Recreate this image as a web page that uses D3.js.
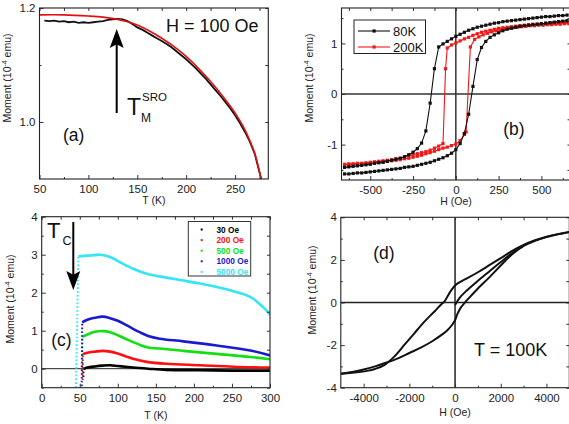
<!DOCTYPE html>
<html>
<head>
<meta charset="utf-8">
<script src="https://cdn.jsdelivr.net/npm/d3@7"></script>
<style>
  body { margin: 0; background: #fff; }
  svg { display: block; font-family: "Liberation Sans", Arial, sans-serif; }
</style>
</head>
<body>
<script>
// ---- panel (a): M(T) at 100 Oe ----
const aData = [[55,1.178],[60,1.177],[65,1.178],[70,1.176],[75,1.177],[80,1.175],[85,1.176],[90,1.174],[95,1.175],[100,1.174],
  [105,1.175],[110,1.176],[115,1.177],[120,1.179],[125,1.180],[130,1.181],[135,1.180],[140,1.177],[145,1.172],[150,1.166],
  [155,1.162],[160,1.157],[165,1.152],[170,1.147],[175,1.142],[180,1.137],[185,1.131],[190,1.124],[195,1.117],[200,1.110],
  [205,1.102],[210,1.094],[215,1.085],[220,1.076],[225,1.066],[230,1.056],[235,1.046],[240,1.035],[245,1.024],[250,1.012],
  [255,0.998],[260,0.983],[265,0.966],[270,0.945],[275,0.912],[277,0.898]];
const aFit = [[50,1.188],[75,1.188],[100,1.186],[115,1.184],[130,1.180],[140,1.176],[150,1.170],[162,1.160],[175,1.147],
  [187,1.133],[200,1.115],[212,1.095],[225,1.071],[237,1.046],[250,1.016],[258,0.993],[265,0.968],[271,0.940],[276,0.905],[278,0.89]];

// ---- panel (b): hysteresis loops ----
const loop80Down = [[650,1.56],[625,1.55],[600,1.55],[575,1.54],[550,1.53],[525,1.53],[500,1.52],[475,1.51],[450,1.50],[425,1.49],
  [400,1.48],[375,1.47],[350,1.46],[325,1.45],[300,1.44],[275,1.43],[250,1.41],[225,1.40],[200,1.38],[175,1.36],[150,1.34],
  [125,1.32],[100,1.29],[75,1.26],[50,1.22],[25,1.18],[0,1.14],[-25,1.09],[-50,1.04],[-75,0.99],[-100,0.93],[-125,0.50],
  [-150,-0.18],[-175,-0.73],[-200,-0.97],[-225,-1.08],[-250,-1.15],[-275,-1.20],[-300,-1.24],[-325,-1.27],[-350,-1.29],
  [-375,-1.31],[-400,-1.33],[-425,-1.35],[-450,-1.36],[-475,-1.37],[-500,-1.39],[-525,-1.40],[-550,-1.41],[-575,-1.42],
  [-600,-1.43],[-625,-1.44],[-650,-1.45]];
const loop80Up = [[-650,-1.58],[-625,-1.58],[-600,-1.57],[-575,-1.56],[-550,-1.56],[-525,-1.55],[-500,-1.54],[-475,-1.53],
  [-450,-1.52],[-425,-1.51],[-400,-1.50],[-375,-1.49],[-350,-1.48],[-325,-1.47],[-300,-1.45],[-275,-1.44],[-250,-1.43],
  [-225,-1.41],[-200,-1.39],[-175,-1.37],[-150,-1.35],[-125,-1.32],[-100,-1.29],[-75,-1.26],[-50,-1.22],[-25,-1.17],[0,-1.10],
  [25,-0.98],[50,-0.78],[75,-0.40],[100,0.15],[125,0.68],[150,0.92],[175,1.04],[200,1.12],[225,1.17],[250,1.21],[275,1.25],
  [300,1.28],[325,1.30],[350,1.32],[375,1.34],[400,1.35],[425,1.36],[450,1.37],[475,1.38],[500,1.39],[525,1.40],[550,1.41],
  [575,1.42],[600,1.43],[625,1.44],[650,1.45]];
const loop200Down = [[650,1.42],[625,1.42],[600,1.41],[575,1.41],[550,1.40],[525,1.40],[500,1.39],[475,1.38],[450,1.38],
  [425,1.37],[400,1.36],[375,1.35],[350,1.34],[325,1.33],[300,1.32],[275,1.31],[250,1.30],[225,1.28],[200,1.26],[175,1.24],
  [150,1.22],[125,1.19],[100,1.16],[75,1.12],[50,1.09],[25,1.05],[0,1.01],[-25,0.97],[-50,0.91],[-60,0.50],[-75,-0.98],
  [-100,-1.03],[-125,-1.07],[-150,-1.11],[-175,-1.14],[-200,-1.16],[-225,-1.18],[-250,-1.20],[-275,-1.22],[-300,-1.25],
  [-325,-1.27],[-350,-1.28],[-375,-1.30],[-400,-1.31],[-425,-1.32],[-450,-1.33],[-475,-1.34],[-500,-1.35],[-525,-1.36],
  [-550,-1.37],[-575,-1.37],[-600,-1.38],[-625,-1.38],[-650,-1.39]];
const loop200Up = [[-650,-1.40],[-625,-1.40],[-600,-1.39],[-575,-1.39],[-550,-1.38],[-525,-1.38],[-500,-1.37],[-475,-1.36],
  [-450,-1.35],[-425,-1.34],[-400,-1.33],[-375,-1.32],[-350,-1.31],[-325,-1.30],[-300,-1.28],[-275,-1.27],[-250,-1.25],
  [-225,-1.23],[-200,-1.21],[-175,-1.18],[-150,-1.16],[-125,-1.13],[-100,-1.10],[-75,-1.07],[-50,-1.05],[-25,-1.02],[0,-0.99],
  [25,-0.92],[50,-0.80],[60,-0.75],[85,0.93],[110,1.08],[135,1.13],[160,1.17],[185,1.20],[210,1.23],[235,1.25],[260,1.27],
  [285,1.29],[310,1.30],[335,1.31],[360,1.32],[385,1.33],[410,1.34],[435,1.35],[460,1.35],[485,1.36],[510,1.36],[535,1.37],
  [560,1.37],[585,1.38],[610,1.38],[635,1.39],[660,1.39]];

// ---- panel (c): M(T) at several fields ----
const fieldLabels = ["30 Oe", "200 Oe", "500 Oe", "1000 Oe", "5000 Oe"];
const fieldColors = ["#000000", "#ff1010", "#10e010", "#1a1ad0", "#33e6f6"];
const riseCurves = [
  [[54.8,-0.22],[54.8,0.0]],
  [[54.0,-0.30],[54.0,0.38]],
  [[53.4,-0.15],[53.4,0.84]],
  [[52.6,-0.46],[53.2,1.22]],
  [[45.0,-0.50],[48.2,2.95]]
];
const mtCurves = [
  [[55,-0.01],[60,0.03],[70,0.06],[80,0.08],[90,0.09],[100,0.07],[110,0.05],[120,0.03],[140,0.0],[164,-0.03],[208,-0.04],[250,-0.05],[300,-0.05]],
  [[54,0.38],[60,0.42],[70,0.45],[80,0.47],[90,0.45],[100,0.40],[110,0.33],[120,0.26],[138,0.18],[164,0.13],[208,0.09],[252,0.05],[300,0.03]],
  [[53.4,0.84],[60,0.90],[70,0.97],[80,0.99],[90,0.96],[100,0.88],[110,0.79],[120,0.70],[130,0.62],[140,0.56],[155,0.53],[186,0.47],[230,0.39],[274,0.31],[300,0.25]],
  [[53.2,1.22],[60,1.29],[70,1.34],[80,1.37],[90,1.33],[100,1.26],[110,1.16],[120,1.05],[130,0.95],[140,0.86],[155,0.79],[186,0.72],[230,0.61],[274,0.48],[300,0.35]],
  [[48.2,2.95],[55,2.97],[65,2.98],[77,3.00],[90,2.94],[103,2.80],[120,2.63],[138,2.50],[155,2.43],[186,2.32],[208,2.24],[230,2.15],[252,2.04],[274,1.89],[291,1.62],[300,1.42]]
];

// ---- panel (d): loop at 100 K ----
const dUpper = [[5000,3.31],[4500,3.21],[4000,3.09],[3500,2.92],[3000,2.70],[2500,2.42],[2000,2.08],[1500,1.75],[1000,1.42],
  [500,1.12],[250,0.98],[0,0.80],[-200,0.52],[-350,0.25],[-480,0.03],[-600,-0.08],[-900,-0.42],[-1350,-0.91],[-1800,-1.47],
  [-2200,-1.97],[-2650,-2.53],[-3100,-2.94],[-3500,-3.12],[-3850,-3.21],[-4500,-3.30],[-5000,-3.34]];
const dLower = [[-5000,-3.34],[-4500,-3.26],[-4000,-3.15],[-3500,-3.00],[-3000,-2.82],[-2500,-2.62],[-2000,-2.37],
  [-1500,-2.12],[-1000,-1.82],[-500,-1.45],[-335,-1.30],[-150,-1.08],[0,-0.83],[100,-0.55],[250,-0.24],[400,-0.04],[600,0.20],
  [1000,0.66],[1500,1.18],[2000,1.74],[2500,2.27],[3000,2.66],[3500,2.90],[4000,3.07],[4500,3.20],[5000,3.30]];
const dVirgin = [[0,-0.12],[200,0.22],[500,0.55],[1000,1.02],[1500,1.46],[2000,1.90],[2500,2.32],[3000,2.66]];

const FONT = '"Liberation Sans", Arial, sans-serif';
const svg = d3.select("body").append("svg").attr("width", 569).attr("height", 424);
svg.append("rect").attr("width", 569).attr("height", 424).attr("fill", "#fff");

let clipCount = 0;
function drawPanel(cfg) {
  const x = d3.scaleLinear().domain(cfg.xDomain).range([cfg.left, cfg.right]);
  const y = d3.scaleLinear().domain(cfg.yDomain).range([cfg.bottom, cfg.top]);
  const g = svg.append("g");
  const id = "clip" + (clipCount++);
  svg.append("clipPath").attr("id", id).append("rect")
    .attr("x", cfg.left).attr("y", cfg.top)
    .attr("width", cfg.right - cfg.left).attr("height", cfg.bottom - cfg.top);
  const plot = g.append("g").attr("clip-path", `url(#${id})`);

  const style = sel => {
    sel.select(".domain").remove();
    sel.selectAll("line").attr("stroke", "#333").attr("stroke-width", 1);
    sel.selectAll("text").attr("font-family", FONT).attr("font-size", 11.5).attr("fill", "#222");
  };
  // major + minor ticks on all four sides, pointing inwards
  g.append("g").attr("transform", `translate(0,${cfg.bottom})`)
    .call(d3.axisBottom(x).tickValues(cfg.xTicks).tickSize(-4).tickSizeOuter(0).tickPadding(6).tickFormat(d => String(d)))
    .call(style);
  g.append("g").attr("transform", `translate(0,${cfg.bottom})`)
    .call(d3.axisBottom(x).tickValues(cfg.xMinor).tickSize(-2).tickSizeOuter(0).tickFormat("")).call(style);
  g.append("g").attr("transform", `translate(0,${cfg.top})`)
    .call(d3.axisTop(x).tickValues(cfg.xTicks.concat(cfg.xMinor)).tickSize(-3).tickSizeOuter(0).tickFormat("")).call(style);
  g.append("g").attr("transform", `translate(${cfg.left},0)`)
    .call(d3.axisLeft(y).tickValues(cfg.yTicks).tickSize(-4).tickSizeOuter(0).tickPadding(4).tickFormat(cfg.yFormat || (d => String(d))))
    .call(style);
  g.append("g").attr("transform", `translate(${cfg.left},0)`)
    .call(d3.axisLeft(y).tickValues(cfg.yMinor).tickSize(-2).tickSizeOuter(0).tickFormat("")).call(style);
  g.append("g").attr("transform", `translate(${cfg.right},0)`)
    .call(d3.axisRight(y).tickValues(cfg.yTicks.concat(cfg.yMinor)).tickSize(-3).tickSizeOuter(0).tickFormat("")).call(style);

  g.append("rect")
    .attr("x", cfg.left).attr("y", cfg.top)
    .attr("width", cfg.right - cfg.left).attr("height", cfg.bottom - cfg.top)
    .attr("fill", "none").attr("stroke", "#222").attr("stroke-width", 1.1);

  // axis titles
  g.append("text").attr("x", (cfg.left + cfg.right) / 2).attr("y", cfg.xTitleY)
    .attr("text-anchor", "middle").attr("font-family", FONT).attr("font-size", 10.5).attr("fill", "#222")
    .text(cfg.xTitle);
  const yt = g.append("text").attr("transform", `translate(${cfg.yTitleX},${cfg.yTitleMid}) rotate(-90)`)
    .attr("text-anchor", "middle").attr("font-family", FONT).attr("font-size", 10.5).attr("fill", "#222");
  yt.append("tspan").text("Moment (10");
  yt.append("tspan").attr("dy", -4).attr("font-size", 7).text("-4");
  yt.append("tspan").attr("dy", 4).text(" emu)");

  return { x, y, g, plot };
}

function label(g, x, y, txt, size, anchor) {
  return g.append("text").attr("x", x).attr("y", y).attr("font-family", FONT)
    .attr("font-size", size).attr("fill", "#111").attr("text-anchor", anchor || "start").text(txt);
}

function arrow(g, x, yTail, yTip, dir) {
  // dir = -1 arrow points up, +1 points down
  const head = 19, half = 7;
  g.append("line").attr("x1", x).attr("x2", x).attr("y1", yTail).attr("y2", yTip - dir * head * 0.6)
    .attr("stroke", "#000").attr("stroke-width", 2);
  g.append("path")
    .attr("d", `M${x},${yTip} L${x - half},${yTip - dir * head} L${x},${yTip - dir * head * 0.8} L${x + half},${yTip - dir * head} Z`)
    .attr("fill", "#000");
}

// ================= (a) =================
const A = drawPanel({
  left: 39.5, right: 268.3, top: 8, bottom: 179,
  xDomain: [50, 284], yDomain: [0.9, 1.2],
  xTicks: [50, 100, 150, 200, 250], xMinor: [75, 125, 175, 225, 275],
  yTicks: [1.0, 1.2], yMinor: [1.1], yFormat: d3.format(".1f"),
  xTitle: "T (K)", xTitleY: 204, yTitleX: 11, yTitleMid: 78
});
const lineA = d3.line().x(d => A.x(d[0])).y(d => A.y(d[1]));
A.plot.append("path").datum(aData).attr("d", lineA)
  .attr("fill", "none").attr("stroke", "#111").attr("stroke-width", 1.8);
A.plot.append("path").datum(aFit).attr("d", lineA.curve(d3.curveCatmullRom))
  .attr("fill", "none").attr("stroke", "#e41010").attr("stroke-width", 1.6);
arrow(A.g, 116.7, 113, 29, -1);
label(A.g, 127, 115, "T", 23);
label(A.g, 141, 122, "M", 12);
label(A.g, 142, 101, "SRO", 11.5);
label(A.g, 166, 32, "H = 100 Oe", 18);
label(A.g, 63, 141, "(a)", 17.5);

// ================= (b) =================
const B = drawPanel({
  left: 341.5, right: 570.5, top: 8, bottom: 180,
  xDomain: [-668, 670], yDomain: [-1.7, 1.7],
  xTicks: [-500, -250, 0, 250, 500], xMinor: [-625, -375, -125, 125, 375, 625],
  yTicks: [-1, 0, 1], yMinor: [-1.5, -0.5, 0.5, 1.5],
  xTitle: "H (Oe)", xTitleY: 205, yTitleX: 313, yTitleMid: 78
});
B.plot.append("line").attr("x1", B.x(0)).attr("x2", B.x(0)).attr("y1", 8).attr("y2", 180)
  .attr("stroke", "#333").attr("stroke-width", 1.5);
B.plot.append("line").attr("x1", 341.5).attr("x2", 570.5).attr("y1", B.y(0)).attr("y2", B.y(0))
  .attr("stroke", "#333").attr("stroke-width", 1.5);
const lineB = d3.line().x(d => B.x(d[0])).y(d => B.y(d[1]));
const loops = [
  { data: loop200Down, color: "#f01818" }, { data: loop200Up, color: "#f01818" },
  { data: loop80Down, color: "#111" }, { data: loop80Up, color: "#111" }
];
loops.forEach(l => {
  B.plot.append("path").datum(l.data).attr("d", lineB)
    .attr("fill", "none").attr("stroke", l.color).attr("stroke-width", 1.1);
  B.plot.selectAll(null).data(l.data).enter().append("rect")
    .attr("x", d => B.x(d[0]) - 1.6).attr("y", d => B.y(d[1]) - 1.6)
    .attr("width", 3.2).attr("height", 3.2).attr("fill", l.color);
});
label(B.g, 514, 135, "(b)", 17.5, "middle");
// legend
const legB = B.g.append("g");
legB.append("rect").attr("x", 354).attr("y", 20).attr("width", 71.5).attr("height", 33.5)
  .attr("fill", "#fff").attr("stroke", "#222").attr("stroke-width", 1);
[["80K", "#111", 31], ["200K", "#f01818", 47]].forEach(([t, c, yy]) => {
  legB.append("line").attr("x1", 358).attr("x2", 390).attr("y1", yy).attr("y2", yy)
    .attr("stroke", c).attr("stroke-width", 1.1);
  legB.append("rect").attr("x", 372.5).attr("y", yy - 1.6).attr("width", 3.2).attr("height", 3.2).attr("fill", c);
  label(legB, 393, yy + 4.5, t, 13);
});

// ================= (c) =================
const C = drawPanel({
  left: 41.7, right: 270, top: 216.7, bottom: 387.7,
  xDomain: [0, 300], yDomain: [-0.5, 4],
  xTicks: [0, 50, 100, 150, 200, 250, 300], xMinor: [25, 75, 125, 175, 225, 275],
  yTicks: [0, 1, 2, 3, 4], yMinor: [-0.5, 0.5, 1.5, 2.5, 3.5],
  xTitle: "T (K)", xTitleY: 419, yTitleX: 14, yTitleMid: 299
});
C.plot.append("line").attr("x1", 41.7).attr("x2", 270).attr("y1", C.y(0)).attr("y2", C.y(0))
  .attr("stroke", "#222").attr("stroke-width", 1);
const lineC = d3.line().x(d => C.x(d[0])).y(d => C.y(d[1]));
mtCurves.forEach((curve, i) => {
  C.plot.append("path").datum(riseCurves[i]).attr("d", lineC)
    .attr("fill", "none").attr("stroke", fieldColors[i]).attr("stroke-width", 2)
    .attr("stroke-dasharray", "1.6,2.2");
  C.plot.append("path").datum(curve).attr("d", lineC.curve(d3.curveCatmullRom))
    .attr("fill", "none").attr("stroke", fieldColors[i]).attr("stroke-width", 2.6);
  lineC.curve(d3.curveLinear);
});
arrow(C.g, 73.3, 222, 290, 1);
label(C.g, 47, 238, "T", 22);
label(C.g, 62.5, 245, "C", 12.5);
label(C.g, 61.5, 346, "(c)", 17.5, "middle");
// legend
const legC = C.g.append("g");
legC.append("rect").attr("x", 188.3).attr("y", 221.5).attr("width", 62.4).attr("height", 54.5)
  .attr("fill", "#fff").attr("stroke", "#333").attr("stroke-width", 1);
fieldLabels.forEach((t, i) => {
  const yy = 229.5 + i * 10.6;
  legC.append("rect").attr("x", 200.7).attr("y", yy - 1).attr("width", 2).attr("height", 2).attr("fill", fieldColors[i]);
  legC.append("text").attr("x", 216.5).attr("y", yy + 3).attr("font-family", FONT).attr("font-size", 8.3)
    .attr("font-weight", "bold").attr("fill", fieldColors[i]).text(t);
});

// ================= (d) =================
const D = drawPanel({
  left: 340.8, right: 569.3, top: 217.3, bottom: 387.7,
  xDomain: [-5000, 5000], yDomain: [-4, 4],
  xTicks: [-4000, -2000, 0, 2000, 4000], xMinor: [-3000, -1000, 1000, 3000],
  yTicks: [-4, -2, 0, 2, 4], yMinor: [-3, -1, 1, 3],
  xTitle: "H (Oe)", xTitleY: 416, yTitleX: 316, yTitleMid: 290
});
D.plot.append("line").attr("x1", D.x(0)).attr("x2", D.x(0)).attr("y1", 217.3).attr("y2", 387.7)
  .attr("stroke", "#222").attr("stroke-width", 1.5);
D.plot.append("line").attr("x1", 340.8).attr("x2", 569.3).attr("y1", D.y(0)).attr("y2", D.y(0))
  .attr("stroke", "#222").attr("stroke-width", 1.5);
const lineD = d3.line().x(d => D.x(d[0])).y(d => D.y(d[1])).curve(d3.curveCatmullRom);
[dUpper, dLower, dVirgin].forEach(c => {
  D.plot.append("path").datum(c).attr("d", lineD)
    .attr("fill", "none").attr("stroke", "#111").attr("stroke-width", 2);
});
label(D.g, 384, 259, "(d)", 17.5, "middle");
label(D.g, 474, 356, "T = 100K", 18);
</script>
</body>
</html>
